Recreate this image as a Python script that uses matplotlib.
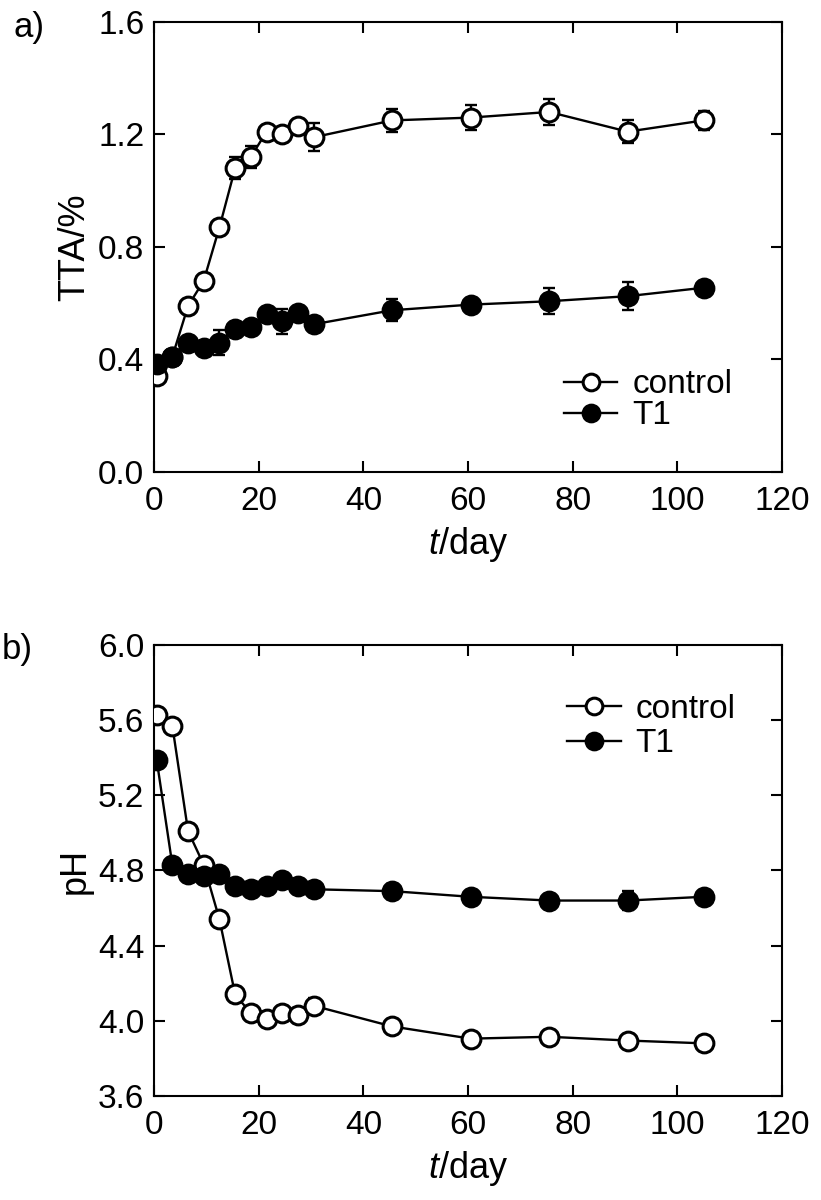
import numpy as np
import matplotlib
matplotlib.use("Agg")
import matplotlib.pyplot as plt
from matplotlib.lines import Line2D

plt.rcParams['font.family'] = ['Liberation Sans', 'DejaVu Sans']
plt.rcParams['mathtext.fontset'] = 'custom'
plt.rcParams['mathtext.it'] = 'Liberation Sans:italic'
plt.rcParams['mathtext.rm'] = 'Liberation Sans'

# sampling days
days = [0.5, 3.5, 6.5, 9.5, 12.5, 15.5, 18.5, 21.5, 24.5, 27.5, 30.5, 45.5, 60.5, 75.5, 90.5, 105]

# a) total titratable acidity (%)
tta_control = [0.34, 0.41, 0.59, 0.68, 0.87, 1.08, 1.12, 1.21, 1.20, 1.23, 1.19, 1.25, 1.26, 1.28, 1.21, 1.25]
tta_control_err = [0.02, 0.01, 0.01, 0.01, 0.02, 0.04, 0.04, 0.01, 0.01, 0.02, 0.05, 0.04, 0.045, 0.045, 0.04, 0.035]
tta_t1 = [0.385, 0.41, 0.46, 0.44, 0.46, 0.51, 0.515, 0.56, 0.535, 0.565, 0.525, 0.575, 0.595, 0.607, 0.625, 0.655]
tta_t1_err = [0.01, 0.01, 0.01, 0.02, 0.045, 0.02, 0.02, 0.02, 0.045, 0.02, 0.02, 0.04, 0.02, 0.047, 0.05, 0.01]

# b) pH
ph_control = [5.63, 5.57, 5.01, 4.83, 4.54, 4.14, 4.04, 4.01, 4.04, 4.03, 4.08, 3.97, 3.905, 3.915, 3.895, 3.88]
ph_control_err = [0.01, 0.01, 0.01, 0.01, 0.01, 0.01, 0.01, 0.01, 0.03, 0.01, 0.04, 0.02, 0.01, 0.01, 0.02, 0.01]
ph_t1 = [5.39, 4.83, 4.78, 4.77, 4.78, 4.72, 4.70, 4.72, 4.75, 4.72, 4.70, 4.69, 4.66, 4.64, 4.64, 4.66]
ph_t1_err = [0.01, 0.01, 0.01, 0.01, 0.01, 0.01, 0.01, 0.01, 0.01, 0.01, 0.01, 0.04, 0.02, 0.03, 0.05, 0.01]

fig = plt.figure(figsize=(8.21, 12), dpi=100)
ax1 = fig.add_axes([0.1876, 0.6067, 0.765, 0.375])
ax2 = fig.add_axes([0.1876, 0.0867, 0.765, 0.3758])

MS, MEW, LW = 13.5, 2.2, 1.7

def draw(ax, yc, ec, yt, et):
    eb = dict(fmt='none', ecolor='black', elinewidth=LW, capsize=4, capthick=LW)
    ax.errorbar(days, yc, yerr=ec, zorder=2, **eb)
    ax.errorbar(days, yt, yerr=et, zorder=2, **eb)
    ax.plot(days, yc, '-o', color='black', lw=LW, ms=MS, mew=MEW, mfc='white', mec='black', zorder=3)
    ax.plot(days, yt, '-o', color='black', lw=LW, ms=MS, mew=MEW, mfc='black', mec='black', zorder=4)
    ax.set_xlim(0, 120)
    ax.set_xticks(np.arange(0, 121, 20))
    ax.tick_params(direction='in', length=8, width=1.5, labelsize=24, top=True, right=True)
    ax.tick_params(axis='x', pad=10)
    ax.tick_params(axis='y', pad=7)
    for s in ax.spines.values():
        s.set_linewidth(1.5)
    ax.set_xlabel(r'$\it{t}$/day', fontsize=26, labelpad=6)

def add_legend(ax, x, y, spacing):
    handles = [Line2D([], [], color='black', lw=LW, marker='o', ms=MS - 1.5, mew=MEW, mfc='white', mec='black'),
               Line2D([], [], color='black', lw=LW, marker='o', ms=MS - 1.5, mew=MEW, mfc='black', mec='black')]
    ax.legend(handles, ['control', 'T1'], loc='center left', bbox_to_anchor=(x, y), frameon=False,
              fontsize=24, handlelength=1.6, handletextpad=0.45, labelspacing=spacing,
              borderpad=0, borderaxespad=0)

draw(ax1, tta_control, tta_control_err, tta_t1, tta_t1_err)
ax1.set_ylim(0, 1.6)
ax1.set_yticks(np.arange(0, 1.61, 0.4))
ax1.set_yticklabels([f'{v:.1f}' for v in np.arange(0, 1.61, 0.4)])
ax1.set_ylabel('TTA/%', fontsize=26, labelpad=4)
add_legend(ax1, 0.653, 0.159, 0.0)

draw(ax2, ph_control, ph_control_err, ph_t1, ph_t1_err)
ax2.set_ylim(3.6, 6.0)
ax2.set_yticks(np.arange(3.6, 6.01, 0.4))
ax2.set_yticklabels([f'{v:.1f}' for v in np.arange(3.6, 6.01, 0.4)])
ax2.set_ylabel('pH', fontsize=26, labelpad=4)
add_legend(ax2, 0.658, 0.819, 0.1)

fig.text(0.016, 0.9767, 'a)', fontsize=25, va='center', ha='left')
fig.text(0.002, 0.459, 'b)', fontsize=25, va='center', ha='left')

fig.savefig('out.png', dpi=100)
